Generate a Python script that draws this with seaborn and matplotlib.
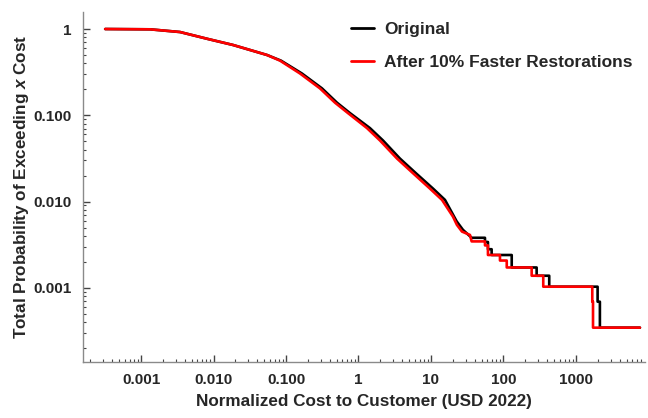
import numpy as np
import matplotlib
matplotlib.use('Agg')
import matplotlib.pyplot as plt
import matplotlib.ticker as mticker
import seaborn as sns

# values (cost in normalized USD 2022, exceedance probability)
orig_cost = [3.2e-4, 0.00133, 0.00345, 0.0084, 0.0186, 0.0547, 0.0853, 0.166, 0.314, 0.505,
             0.763, 1.44, 2.18, 3.73, 6.2, 10.7, 15.6, 22.6, 27.6, 36.4,
             55.6, 55.6, 61.1, 61.1, 68.7, 68.7, 130, 130, 287, 287,
             428, 428, 1990, 1990, 2140, 2140, 7640]
orig_prob = [1.0, 0.992, 0.923, 0.766, 0.653, 0.50, 0.430, 0.305, 0.205, 0.140,
             0.106, 0.0710, 0.0510, 0.0315, 0.0213, 0.0141, 0.01045, 0.0059, 0.0047, 0.0038,
             0.0038, 0.0034, 0.0034, 0.0028, 0.0028, 0.0024, 0.0024, 0.00172, 0.00172, 0.00138,
             0.00138, 0.00103, 0.00103, 0.00069, 0.00069, 0.000345, 0.000345]

fast_cost = [3.2e-4, 0.00133, 0.00345, 0.0084, 0.0186, 0.0547, 0.0827, 0.156, 0.294, 0.474,
             0.716, 1.31, 1.98, 3.40, 5.65, 9.7, 14.2, 20.1, 22.8, 26.8,
             34.5, 36.4, 55.6, 55.6, 61.1, 61.1, 89.5, 89.5, 111, 111,
             245, 245, 354, 354, 1680, 1680, 1720, 1720, 7640]
fast_prob = [1.0, 0.992, 0.923, 0.766, 0.653, 0.50, 0.430, 0.305, 0.205, 0.140,
             0.106, 0.0710, 0.0510, 0.0315, 0.0213, 0.0141, 0.01045, 0.00669, 0.00536, 0.00448,
             0.0041, 0.00345, 0.00345, 0.0031, 0.0031, 0.0024, 0.0024, 0.00207, 0.00207, 0.00172,
             0.00172, 0.00138, 0.00138, 0.00103, 0.00103, 0.00069, 0.00069, 0.000345, 0.000345]

x_ticks = [0.001, 0.01, 0.1, 1, 10, 100, 1000]
x_labels = ['0.001', '0.010', '0.100', '1', '10', '100', '1000']
y_ticks = [0.001, 0.01, 0.1, 1]
y_labels = ['0.001', '0.010', '0.100', '1']

sns.set_theme(style='ticks')
plt.rcParams['font.family'] = ['Liberation Sans', 'DejaVu Sans']
plt.rcParams['font.weight'] = 'bold'
plt.rcParams['mathtext.fontset'] = 'custom'
plt.rcParams['mathtext.it'] = 'Liberation Sans:bold:italic'

fig = plt.figure(figsize=(6.48, 4.18), dpi=100)
ax = fig.add_axes([0.128, 0.134, 0.867, 0.837])

sns.lineplot(x=orig_cost, y=orig_prob, sort=False, estimator=None, color='black',
             lw=1.9, ax=ax, label='Original')
sns.lineplot(x=fast_cost, y=fast_prob, sort=False, estimator=None, color='#ff0000',
             lw=1.9, ax=ax, label='After 10% Faster Restorations')

ax.set_xscale('log')
ax.set_yscale('log')
ax.set_xlim(1.58e-4, 8900)
ax.set_ylim(1.38e-4, 1.57)

ax.set_xticks(x_ticks)
ax.set_xticklabels(x_labels)
ax.set_yticks(y_ticks)
ax.set_yticklabels(y_labels)
ax.xaxis.set_minor_locator(mticker.LogLocator(base=10, subs=np.arange(2, 10)))
ax.yaxis.set_minor_locator(mticker.LogLocator(base=10, subs=np.arange(2, 10)))
ax.xaxis.set_minor_formatter(mticker.NullFormatter())
ax.yaxis.set_minor_formatter(mticker.NullFormatter())

ax.tick_params(which='both', direction='in', color='#444444', labelsize=11, pad=8)
ax.tick_params(which='major', length=5, width=1)
ax.tick_params(which='minor', length=2.5, width=0.8)
for lab in ax.get_xticklabels() + ax.get_yticklabels():
    lab.set_fontweight('bold')

sns.despine(ax=ax)
for s in ['left', 'bottom']:
    ax.spines[s].set_color('#8a8a8a')
    ax.spines[s].set_linewidth(1.0)

ax.set_xlabel('Normalized Cost to Customer (USD 2022)', fontsize=12.3, fontweight='bold', labelpad=5)
ax.set_ylabel('Total Probability of Exceeding $x$ Cost', fontsize=12.3, fontweight='bold', labelpad=2)

leg = ax.legend(loc='upper left', bbox_to_anchor=(0.478, 0.972), frameon=False,
                borderaxespad=0, borderpad=0, fontsize=12.5, handlelength=1.3,
                handletextpad=0.6, labelspacing=1.0)
for t in leg.get_texts():
    t.set_fontweight('bold')
for h in leg.get_lines():
    h.set_linewidth(2.0)

fig.savefig('out.png', dpi=100)
